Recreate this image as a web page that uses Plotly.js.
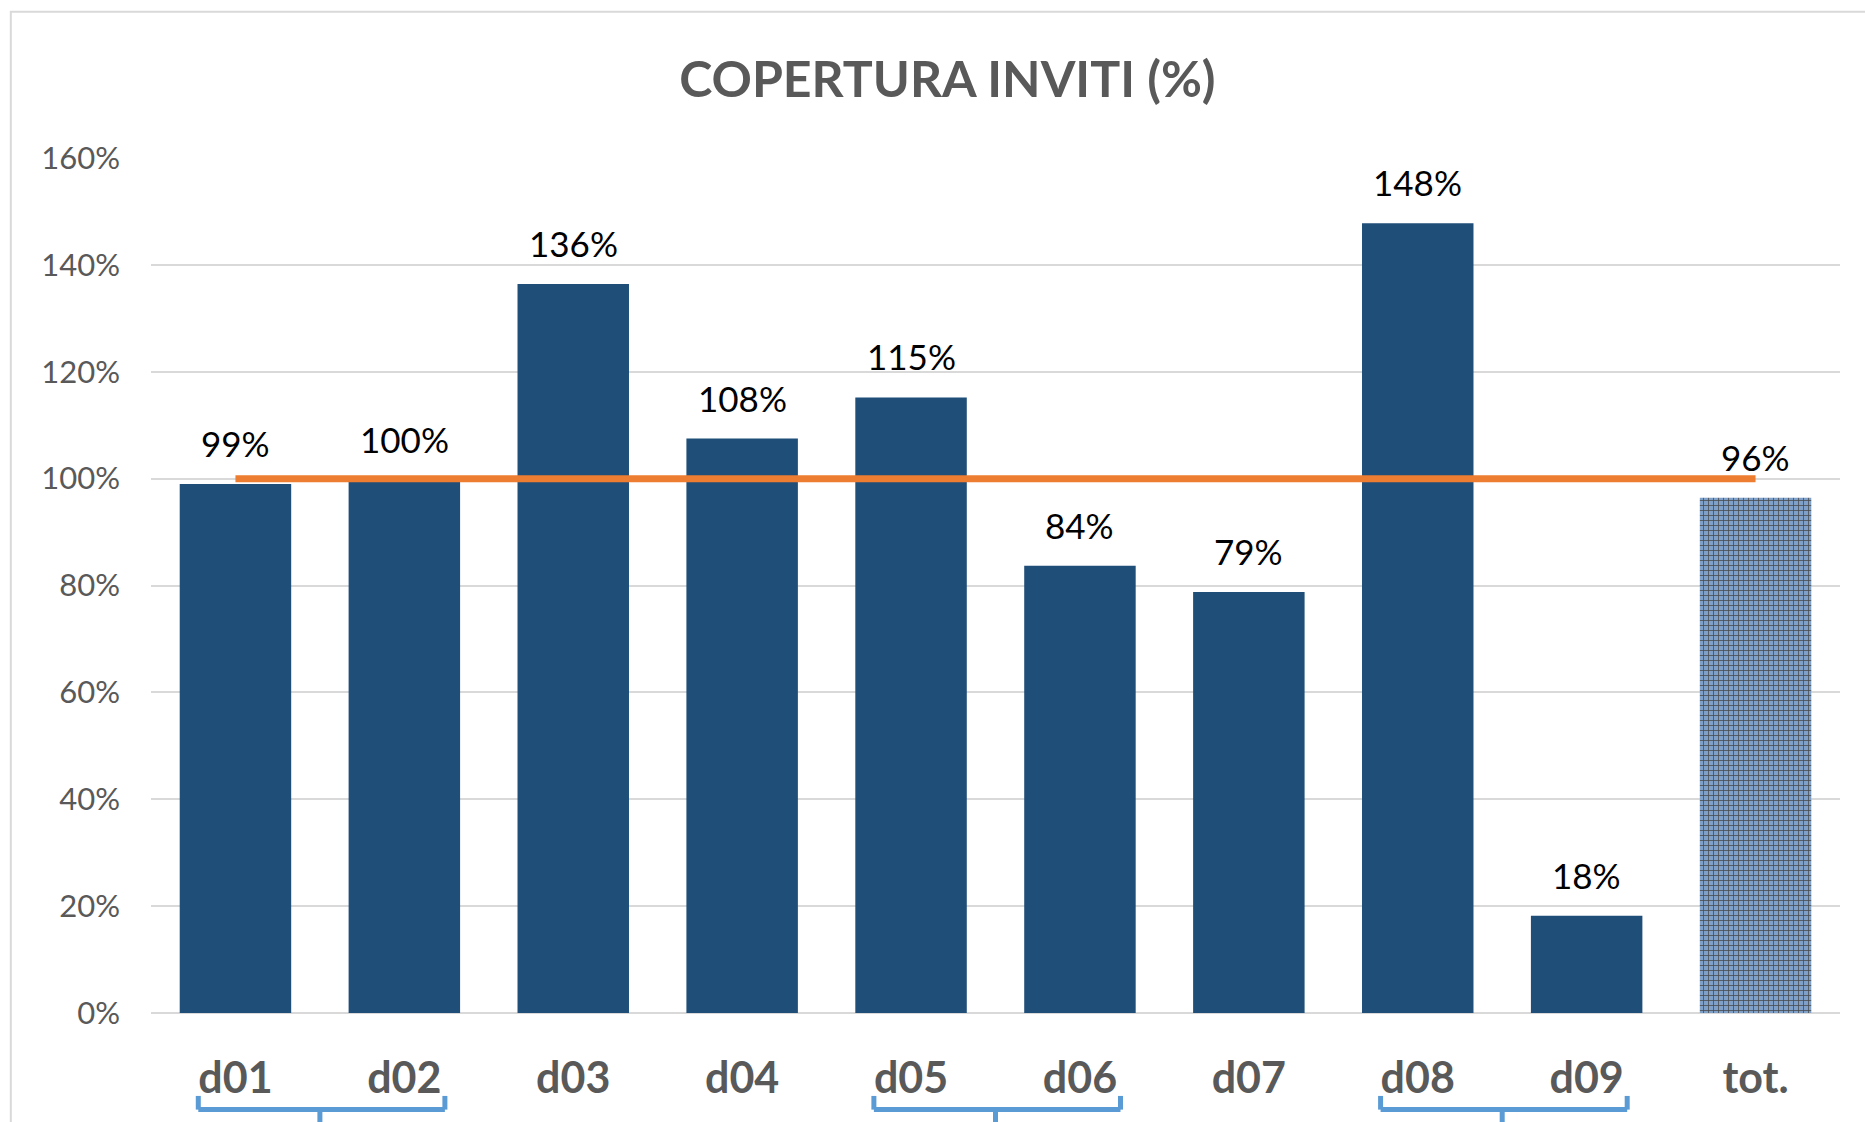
<!DOCTYPE html>
<html>
<head>
<meta charset="utf-8">
<script src="https://cdn.plot.ly/plotly-3.0.1.min.js"></script>
<style>html,body{margin:0;padding:0;background:#fff;}#chart{width:1865px;height:1122px;}</style>
</head>
<body>
<div id="chart"></div>
<script>
const categories = ['d01', 'd02', 'd03', 'd04', 'd05', 'd06', 'd07', 'd08', 'd09', 'tot.'];
const coverage = [0.99, 0.997, 1.364, 1.075, 1.152, 0.837, 0.788, 1.478, 0.182, 0.964];
const target = [1, 1, 1, 1, 1, 1, 1, 1, 1, 1];
const yTickVals = [0, 0.2, 0.4, 0.6, 0.8, 1.0, 1.2, 1.4, 1.6];
const yTickText = ['0%', '20%', '40%', '60%', '80%', '100%', '120%', '140%', '160%'];
const bracketGroups = [['d01', 'd02'], ['d05', 'd06'], ['d08', 'd09']];
const chartTitle = 'COPERTURA INVITI (%)';

const FONT = 'Lato, "Open Sans", "DejaVu Sans", sans-serif';
const BAR = '#1F4E79';
const GREY = '#595959';

const isTot = categories.map(c => c === 'tot.');

const bars = {
  type: 'bar',
  x: categories,
  y: coverage,
  marker: {
    color: isTot.map(t => t ? '#7FA1C9' : BAR),
    line: {width: 0},
    pattern: {
      shape: isTot.map(t => t ? '+' : ''),
      fgcolor: '#1F5088',
      fgopacity: 0.9,
      size: 5,
      solidity: 0.3,
      fillmode: 'overlay'
    }
  },
  hoverinfo: 'x+y',
  showlegend: false
};

const line = {
  type: 'scatter',
  mode: 'lines',
  x: categories,
  y: target,
  line: {color: '#ED7D31', width: 7},
  hoverinfo: 'skip',
  showlegend: false
};

const annotations = categories.map((c, i) => ({
  x: c, y: coverage[i], xref: 'x', yref: 'y',
  text: Math.round(coverage[i] * 100) + '%',
  showarrow: false, yanchor: 'bottom', yshift: 18,
  font: {family: FONT, size: 35, color: '#000000'}
}));

const shapes = [];
// outer frame (only top and left edges visible)
shapes.push({type: 'rect', xref: 'paper', yref: 'paper', x0: -0.083, x1: 1.2, y0: -0.5, y1: 1.171,
  line: {color: '#D9D9D9', width: 2}, fillcolor: 'rgba(0,0,0,0)', layer: 'below'});

const BLUE = '#5B9BD5';
bracketGroups.forEach(g => {
  const a = categories.indexOf(g[0]);
  const b = categories.indexOf(g[1]);
  const mid = (a + b) / 2;
  const x0 = mid - 0.72, x1 = mid + 0.74;
  const yTop = -0.097, yBar = -0.113, yTail = -0.14;
  const st = {color: BLUE, width: 5};
  shapes.push({type: 'line', xref: 'x', yref: 'paper', x0: x0, x1: x0, y0: yTop, y1: yBar, line: st});
  shapes.push({type: 'line', xref: 'x', yref: 'paper', x0: x1, x1: x1, y0: yTop, y1: yBar, line: st});
  shapes.push({type: 'line', xref: 'x', yref: 'paper', x0: x0, x1: x1, y0: yBar, y1: yBar, line: st});
  shapes.push({type: 'line', xref: 'x', yref: 'paper', x0: mid, x1: mid, y0: yBar, y1: yTail, line: st});
});

const layout = {
  width: 1865, height: 1122,
  margin: {l: 151, r: 25, t: 158, b: 109},
  paper_bgcolor: '#ffffff', plot_bgcolor: '#ffffff',
  bargap: 0.34,
  title: {
    text: '<b>' + chartTitle + '</b>',
    x: 0.508, xref: 'container', xanchor: 'center',
    y: 0.929, yref: 'container', yanchor: 'middle',
    font: {family: FONT, size: 50, color: GREY}
  },
  xaxis: {
    type: 'category',
    range: [-0.5, 9.5],
    showgrid: false, zeroline: false, showline: false,
    ticks: '',
    ticklabelstandoff: 36,
    tickfont: {family: FONT, size: 43, color: GREY, weight: 'bold'},
    fixedrange: true
  },
  yaxis: {
    range: [0, 1.6],
    tickvals: yTickVals, ticktext: yTickText,
    showgrid: true, gridcolor: '#D9D9D9', gridwidth: 2,
    zeroline: true, zerolinecolor: '#D9D9D9', zerolinewidth: 2,
    showline: false, ticks: '',
    ticklabelstandoff: 30,
    tickfont: {family: FONT, size: 31, color: GREY},
    fixedrange: true
  },
  annotations: annotations,
  shapes: shapes
};

Plotly.newPlot('chart', [bars, line], layout, {displayModeBar: false, staticPlot: true});
</script>
</body>
</html>
